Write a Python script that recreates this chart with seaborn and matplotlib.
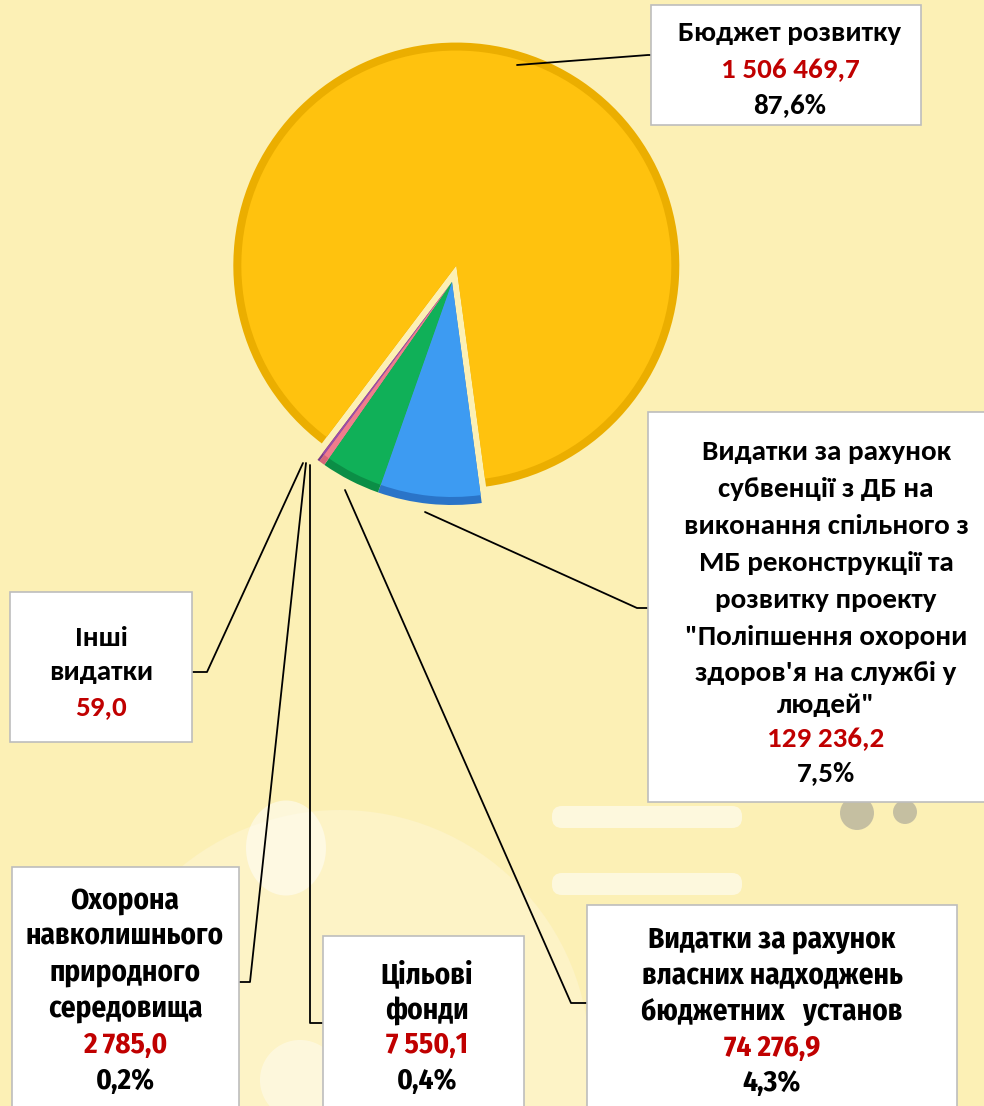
import matplotlib
matplotlib.use("Agg")
import matplotlib.pyplot as plt
from matplotlib import font_manager
from matplotlib.patches import Rectangle, Ellipse, FancyBboxPatch, Circle
import seaborn as sns

# data
labels = [
    "Бюджет розвитку",
    "Видатки за рахунок субвенції з ДБ на виконання спільного з МБ реконструкції та розвитку проекту \"Поліпшення охорони здоров'я на службі у людей\"",
    "Видатки за рахунок власних надходжень бюджетних установ",
    "Цільові фонди",
    "Охорона навколишнього природного середовища",
    "Інші видатки",
]
values = [1506469.7, 129236.2, 74276.9, 7550.1, 2785.0, 59.0]
value_text = ["1 506 469,7", "129 236,2", "74 276,9", "7 550,1", "2 785,0", "59,0"]
share_text = ["87,6%", "7,5%", "4,3%", "0,4%", "0,2%", ""]

W, H = 984, 1106
face = ["#FFC20E", "#3D9BF2", "#10B058", "#F07C8C", "#9B4FA8", "#C00000"]
rim = ["#EBAE00", "#2A74C8", "#0B8E46", "#D86678", "#7A3A88", "#900000"]

sns.set_theme(style="white")
avail = {f.name for f in font_manager.fontManager.ttflist}


def pick(*names):
    for n in names:
        if n in avail:
            return n
    return "DejaVu Sans"


main_font = pick("Carlito", "Lato", "Open Sans")
narrow_font = pick("Fira Sans Condensed", "IBM Plex Sans Condensed", "Carlito")
plt.rcParams["font.family"] = [main_font, "DejaVu Sans"]

fig = plt.figure(figsize=(W / 100, H / 100), dpi=100)
fig.patch.set_facecolor("#FCF0B5")
ax = fig.add_axes([0, 0, 1, 1])
ax.set_facecolor("#FCF0B5")


def py(y):
    return H - y


# faint background decoration
ax.add_patch(Circle((340, py(1060)), 250, color="#FDF3C6", zorder=0, lw=0))
ax.add_patch(Ellipse((286, py(848)), 80, 95, color="white", alpha=0.5, zorder=0, lw=0))
ax.add_patch(Ellipse((300, py(1080)), 80, 80, color="white", alpha=0.4, zorder=0, lw=0))
for yb in (806, 873):
    ax.add_patch(FancyBboxPatch((552, py(yb + 22)), 190, 22, boxstyle="round,pad=0,rounding_size=10",
                                color="white", alpha=0.55, zorder=0, lw=0))
ax.add_patch(Circle((857, py(813)), 17, color="#8F8F8F", alpha=0.5, zorder=0, lw=0))
ax.add_patch(Circle((905, py(812)), 12, color="#8F8F8F", alpha=0.5, zorder=0, lw=0))

# pie (explode in px, since radius is in px)
cx, cy, R = 452, 282, 223
explode = [17, 0, 0, 0, 0, 0]
common = dict(startangle=232.9, counterclock=False, center=(cx, py(cy)), explode=explode)
ax.pie(values, colors=rim, radius=R, wedgeprops=dict(lw=0), **common)
ax.pie(values, colors=face, radius=R - 8, wedgeprops=dict(lw=0), **common)

ax.set_xlim(0, W)
ax.set_ylim(0, H)
ax.set_aspect("equal")
ax.axis("off")

# callout boxes: (x0, y0, x1, y1), text centre x, line y positions, font, size
boxes = [
    ((651, 5, 921, 125), 790, [31, 68, 103], main_font, 21,
     ["Бюджет розвитку"]),
    ((648, 412, 990, 802), 826, [450, 487, 524, 561, 598, 635, 671, 703, 737, 771], main_font, 21,
     ["Видатки за рахунок", "субвенції з ДБ на", "виконання спільного з", "МБ реконструкції та",
      "розвитку проекту", "\"Поліпшення охорони", "здоров'я на службі у", "людей\""]),
    ((587, 905, 957, 1120), 772, [937, 973, 1009, 1045, 1080], narrow_font, 21,
     ["Видатки за рахунок", "власних надходжень", "бюджетних   установ"]),
    ((323, 936, 524, 1120), 427, [972, 1008, 1042, 1078], narrow_font, 21,
     ["Цільові", "фонди"]),
    ((12, 867, 239, 1120), 125, [898, 934, 970, 1006, 1042, 1078], narrow_font, 21,
     ["Охорона", "навколишнього", "природного", "середовища"]),
    ((10, 592, 192, 742), 101, [636, 670, 705], main_font, 21,
     ["Інші", "видатки"]),
]

leaders = [
    [(517, 65), (648, 55), (651, 55)],
    [(425, 512), (637, 608), (648, 608)],
    [(345, 490), (571, 1003), (587, 1003)],
    [(310, 465), (310, 1023), (323, 1023)],
    [(306, 463), (250, 982), (239, 982)],
    [(303, 463), (207, 672), (192, 672)],
]

for i, ((x0, y0, x1, y1), tx, ys, fam, fs, words) in enumerate(boxes):
    ax.add_patch(Rectangle((x0, py(y1)), x1 - x0, y1 - y0, facecolor="white",
                           edgecolor="#BDBDBD", lw=1.2, zorder=3))
    pts = leaders[i]
    ax.plot([p[0] for p in pts], [py(p[1]) for p in pts], color="black", lw=1.3, zorder=2)
    lines = [(w, "black") for w in words] + [(value_text[i], "#C00000")]
    if share_text[i]:
        lines.append((share_text[i], "black"))
    for (txt, col), yy in zip(lines, ys):
        ax.text(tx, py(yy), txt, ha="center", va="center_baseline", color=col, fontsize=fs,
                fontweight="bold", family=[fam, "DejaVu Sans"], zorder=4)

fig.savefig("out.png", dpi=100, facecolor=fig.get_facecolor())
